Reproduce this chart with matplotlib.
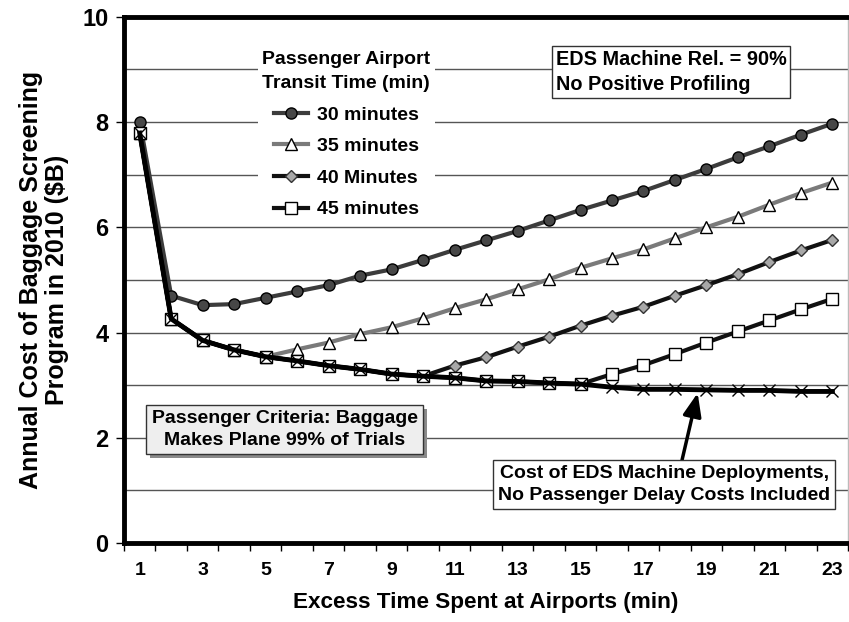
#!/usr/bin/env python
# annual baggage screening cost vs excess airport time
import numpy as np
import matplotlib.pyplot as plt
from matplotlib.patches import Rectangle

plt.rcParams['font.family'] = ['Liberation Sans', 'DejaVu Sans']
plt.rcParams['font.weight'] = 'bold'
plt.rcParams['axes.labelweight'] = 'bold'

excess_time = np.arange(1, 24)

# EDS machine deployment cost (no passenger delay), shared by all curves early on
eds_cost = [7.79, 4.26, 3.85, 3.67, 3.54, 3.46, 3.37, 3.30, 3.21, 3.17, 3.14, 3.08,
            3.07, 3.04, 3.02, 2.96, 2.92, 2.92, 2.91, 2.90, 2.90, 2.88, 2.88]
t30 = [8.01, 4.70, 4.52, 4.54, 4.66, 4.78, 4.90, 5.08, 5.20, 5.38, 5.57, 5.75,
       5.93, 6.13, 6.33, 6.51, 6.69, 6.90, 7.11, 7.33, 7.54, 7.76, 7.97]
t35 = [7.79, 4.26, 3.85, 3.67, 3.54, 3.68, 3.81, 3.97, 4.10, 4.27, 4.46, 4.63,
       4.82, 5.01, 5.23, 5.41, 5.58, 5.79, 6.00, 6.20, 6.43, 6.65, 6.85]
t40 = [7.79, 4.26, 3.85, 3.67, 3.54, 3.46, 3.37, 3.30, 3.21, 3.17, 3.37, 3.53,
       3.73, 3.92, 4.13, 4.32, 4.49, 4.70, 4.90, 5.11, 5.34, 5.56, 5.76]
t45 = [7.79, 4.26, 3.85, 3.67, 3.54, 3.46, 3.37, 3.30, 3.21, 3.17, 3.14, 3.08,
       3.07, 3.04, 3.02, 3.21, 3.38, 3.59, 3.81, 4.02, 4.23, 4.44, 4.64]

labels = ['30 minutes', '35 minutes', '40 Minutes', '45 minutes']

fig = plt.figure(figsize=(8.49, 6.22), dpi=100)
ax = fig.add_axes([0.146, 0.127, 0.853, 0.846])

l1, = ax.plot(excess_time, t30, color='#3c3c3c', lw=3, marker='o', ms=8,
              mfc='#474747', mec='black', mew=1, label=labels[0], zorder=3)
l2, = ax.plot(excess_time, t35, color='#7a7a7a', lw=3, marker='^', ms=9,
              mfc='white', mec='black', mew=1, label=labels[1], zorder=3)
l3, = ax.plot(excess_time, t40, color='#111111', lw=3, marker='D', ms=6.5,
              mfc='#a8a8a8', mec='#333333', mew=1, label=labels[2], zorder=3)
l4, = ax.plot(excess_time, t45, color='#111111', lw=3, marker='s', ms=8,
              mfc='white', mec='black', mew=1, label=labels[3], zorder=3)
ax.plot(excess_time, eds_cost, color='black', lw=3.5, marker='x', ms=8,
        mec='black', mew=1, zorder=4)

ax.set_xlim(0.5, 23.5)
ax.set_ylim(0, 10)
ax.set_xticks(np.arange(0.5, 24, 1))
ax.set_xticklabels([])
ax.set_xticks(np.arange(1, 24, 2), minor=True)
ax.set_xticklabels([str(v) for v in range(1, 24, 2)], minor=True)
ax.tick_params(axis='x', which='major', length=6, width=1, direction='out')
ax.tick_params(axis='x', which='minor', length=0, pad=14, labelsize=14)
ax.set_yticks(np.arange(0, 11, 2))
ax.set_yticks(np.arange(1, 10, 2), minor=True)
ax.tick_params(axis='y', which='major', length=6, width=1, labelsize=17, pad=5)
ax.tick_params(axis='y', which='minor', length=0)
ax.grid(axis='y', which='both', color='#555555', lw=1, zorder=0)

for side in ['left', 'bottom', 'top']:
    ax.spines[side].set_linewidth(3.5)
ax.spines['right'].set_color('#bbbbbb')
ax.spines['right'].set_linewidth(1)

ax.set_xlabel('Excess Time Spent at Airports (min)', fontsize=16.2, labelpad=9)
ax.set_ylabel('Annual Cost of Baggage Screening\nProgram in 2010 ($B)', fontsize=18,
              labelpad=10, linespacing=1.1)

leg = ax.legend(handles=[l1, l2, l3, l4], title='Passenger Airport\nTransit Time (min)',
                loc='upper left', bbox_to_anchor=(0.171, 0.963), frameon=True,
                fontsize=14, title_fontsize=14, handlelength=1.75,
                borderpad=0.25, labelspacing=0.72, handletextpad=0.45)
leg.get_frame().set_edgecolor('none')
leg.get_frame().set_facecolor('white')
leg.get_frame().set_alpha(1)
leg.get_title().set_fontweight('bold')
leg.get_title().set_linespacing(1.55)
leg.set_zorder(5)

ax.text(0.596, 0.895, 'EDS Machine Rel. = 90%\nNo Positive Profiling', transform=ax.transAxes,
        fontsize=14.3, ha='left', va='center', linespacing=1.35, zorder=6,
        bbox=dict(boxstyle='square,pad=0.2', fc='white', ec='#333333', lw=1))

crit = ax.text(0.222, 0.216, 'Passenger Criteria: Baggage\nMakes Plane 99% of Trials',
               transform=ax.transAxes, fontsize=14, ha='center', va='center',
               linespacing=1.35, zorder=6,
               bbox=dict(boxstyle='square,pad=0.28', fc='#eeeeee', ec='#333333', lw=1))

ax.annotate('Cost of EDS Machine Deployments,\nNo Passenger Delay Costs Included',
            xy=(18.72, 2.85), xytext=(0.746, 0.111), textcoords='axes fraction',
            fontsize=14, ha='center', va='center', linespacing=1.35, zorder=6,
            bbox=dict(boxstyle='square,pad=0.25', fc='white', ec='#333333', lw=1),
            arrowprops=dict(arrowstyle='-|>,head_length=1.0,head_width=0.4', color='black',
                            lw=2.5, shrinkA=0, shrinkB=0, relpos=(0.55, 1.0)))

# drop shadow behind the criteria box
fig.canvas.draw()
bb = crit.get_bbox_patch().get_window_extent()
to_axes = ax.transAxes.inverted()
x0, y0 = to_axes.transform((bb.x0 + 4, bb.y0 - 4))
x1, y1 = to_axes.transform((bb.x1 + 4, bb.y1 - 4))
ax.add_patch(Rectangle((x0, y0), x1 - x0, y1 - y0, transform=ax.transAxes,
                       fc='#8a8a8a', ec='none', zorder=5.5, clip_on=False))

plt.savefig('out.png', dpi=100)
